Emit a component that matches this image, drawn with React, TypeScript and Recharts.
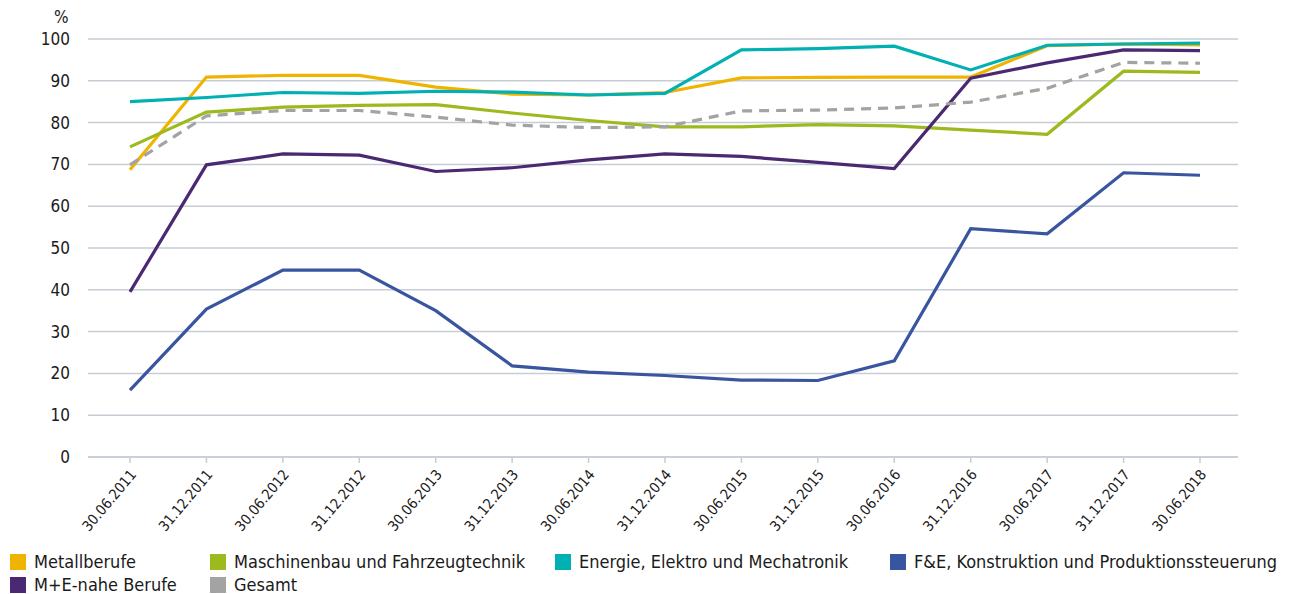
import { LineChart, Line, XAxis, YAxis, CartesianGrid } from 'recharts'

const dates = [
  '30.06.2011', '31.12.2011', '30.06.2012', '31.12.2012', '30.06.2013',
  '31.12.2013', '30.06.2014', '31.12.2014', '30.06.2015', '31.12.2015',
  '30.06.2016', '31.12.2016', '30.06.2017', '31.12.2017', '30.06.2018',
]

const metall = [68.7, 90.9, 91.3, 91.3, 88.5, 86.8, 86.6, 87.2, 90.7, 90.8, 90.9, 90.9, 98.4, 98.8, 98.6]
const maschinenbau = [74.2, 82.5, 83.7, 84.1, 84.3, 82.3, 80.5, 79.0, 79.0, 79.5, 79.2, 78.2, 77.2, 92.3, 92.0]
const energie = [85.0, 86.0, 87.2, 87.0, 87.5, 87.3, 86.6, 87.0, 97.4, 97.7, 98.3, 92.6, 98.5, 98.8, 99.0]
const fuE = [16.0, 35.4, 44.7, 44.7, 35.0, 21.8, 20.3, 19.5, 18.4, 18.3, 23.0, 54.6, 53.4, 68.0, 67.4]
const meNahe = [39.5, 69.9, 72.5, 72.2, 68.3, 69.2, 71.1, 72.5, 71.9, 70.5, 69.0, 90.6, 94.3, 97.4, 97.2]
const gesamt = [69.9, 81.6, 82.9, 82.9, 81.3, 79.4, 78.8, 79.0, 82.8, 83.0, 83.5, 84.9, 88.2, 94.4, 94.2]

const yTicks = [0, 10, 20, 30, 40, 50, 60, 70, 80, 90, 100]

const series = [
  { key: 'metall', name: 'Metallberufe', color: '#f0b400', values: metall },
  { key: 'maschinenbau', name: 'Maschinenbau und Fahrzeugtechnik', color: '#9cb91e', values: maschinenbau },
  { key: 'energie', name: 'Energie, Elektro und Mechatronik', color: '#00b0b2', values: energie },
  { key: 'fue', name: 'F&E, Konstruktion und Produktionssteuerung', color: '#3a55a0', values: fuE },
  { key: 'menahe', name: 'M+E-nahe Berufe', color: '#4a2872', values: meNahe },
  { key: 'gesamt', name: 'Gesamt', color: '#a3a3a3', values: gesamt, dashed: true },
]

const data = dates.map((d, i) => {
  const row: Record<string, string | number> = { date: d }
  series.forEach((s) => {
    row[s.key] = s.values[i]
  })
  return row
})

const FONT = '"Liberation Sans Narrow", "DejaVu Sans Condensed", "Open Sans", sans-serif'
const GRID = '#c6cdd4'

const legendPos = [
  { left: 10, top: 553 },
  { left: 210, top: 553 },
  { left: 555, top: 553 },
  { left: 890, top: 553 },
  { left: 10, top: 576 },
  { left: 210, top: 576 },
]

function XTick(props: any) {
  const { x, y, payload } = props
  return (
    <g transform={`translate(${x + 7},${y + 10})`}>
      <text textAnchor="end" transform="rotate(-50)" fontSize={14.5} fill="#1a1a1a" fontFamily={FONT}>
        {payload.value}
      </text>
    </g>
  )
}

function YTick(props: any) {
  const { x, y, payload } = props
  return (
    <text x={x - 10} y={y + 6} textAnchor="end" fontSize={17} fill="#1a1a1a" fontFamily={FONT}>
      {payload.value}
    </text>
  )
}

export default function App() {
  return (
    <div style={{ position: 'absolute', left: 0, top: 0, width: 1290, height: 594, background: '#fff', fontFamily: FONT }}>
      <div style={{ position: 'absolute', left: 54, top: 7, fontSize: 17, color: '#1a1a1a' }}>%</div>
      <LineChart width={1290} height={548} data={data} margin={{ top: 39, right: 52, left: 0, bottom: 0 }}>
        <CartesianGrid vertical={false} stroke={GRID} strokeWidth={1.5} />
        <XAxis
          dataKey="date"
          interval={0}
          height={91}
          padding={{ left: 42, right: 38 }}
          stroke={GRID}
          strokeWidth={1.5}
          tickLine={{ stroke: GRID }}
          tickSize={6}
          tick={<XTick />}
        />
        <YAxis
          domain={[0, 100]}
          ticks={yTicks}
          width={88}
          axisLine={false}
          tickLine={false}
          tick={<YTick />}
        />
        {series.map((s) => (
          <Line
            key={s.key}
            dataKey={s.key}
            name={s.name}
            stroke={s.color}
            strokeWidth={3.2}
            strokeDasharray={s.dashed ? '10 7' : undefined}
            dot={false}
            type="linear"
            isAnimationActive={false}
          />
        ))}
      </LineChart>
      {series.map((s, i) => (
        <div
          key={s.key}
          style={{
            position: 'absolute',
            left: legendPos[i].left,
            top: legendPos[i].top,
            display: 'flex',
            alignItems: 'center',
            fontSize: 18,
            lineHeight: '18px',
            height: 18,
            color: '#1a1a1a',
            whiteSpace: 'nowrap',
          }}
        >
          <span style={{ display: 'inline-block', width: 16, height: 16, background: s.color, marginRight: 8 }} />
          {s.name}
        </div>
      ))}
    </div>
  )
}
